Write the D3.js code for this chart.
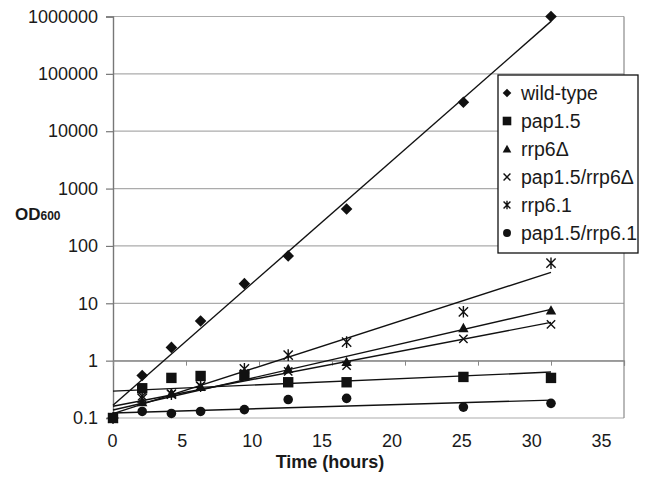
<!DOCTYPE html>
<html>
<head>
<meta charset="utf-8">
<script src="https://cdn.jsdelivr.net/npm/d3@7"></script>
<style>
	body { margin: 0; background: #fff; }
	text { font-family: "Liberation Sans", Arial, sans-serif; fill: #1a1a1a; }
</style>
</head>
<body>
<div id="chart"></div>
<script>
// Data (OD600 vs time)
var times = [0, 2, 4, 6, 9, 12, 16, 24, 30];
var wildType   = [0.1, 0.55, 1.7, 4.9, 22, 67, 440, 32000, 1000000];
var pap15      = [0.1, 0.33, 0.5, 0.54, 0.56, 0.42, 0.42, 0.52, 0.5];
var rrp6d      = [0.1, 0.19, 0.27, 0.35, 0.55, 0.72, 0.95, 3.7, 7.5];
var pap15rrp6d = [0.1, 0.24, 0.26, 0.36, 0.6, 0.65, 0.82, 2.4, 4.3];
var rrp61      = [0.1, 0.22, 0.26, 0.36, 0.72, 1.25, 2.1, 7.1, 50];
var pap15rrp61 = [0.1, 0.13, 0.12, 0.13, 0.14, 0.21, 0.22, 0.155, 0.18];

var seriesNames  = ["wild-type", "pap1.5", "rrp6\u0394", "pap1.5/rrp6\u0394", "rrp6.1", "pap1.5/rrp6.1"];
var seriesValues = [wildType, pap15, rrp6d, pap15rrp6d, rrp61, pap15rrp61];
var seriesShapes = ["diamond", "square", "triangle", "cross", "star", "circle"];

var yTickValues = [0.1, 1, 10, 100, 1000, 10000, 100000, 1000000];
var xTickValues = [0, 5, 10, 15, 20, 25, 30, 35];

var width = 645,
	height = 484,
	svg, x, xLab, y;

function init() {
	svg = d3.select("#chart").append("svg")
		.attr("width", width)
		.attr("height", height);

	x = d3.scaleLinear().domain([0, 35]).range([113, 624]);
	// the printed tick labels sit a little tighter than the ticks
	xLab = d3.scaleLinear().domain([0, 35]).range([112, 601]);
	y = d3.scaleLog().domain([0.1, 1000000]).range([418, 16.5]);

	drawGrid();
	drawAxes();
	drawSeries();
	drawLegend();
}

function drawGrid() {
	svg.append("g")
		.selectAll("line")
		.data(yTickValues)
		.enter().append("line")
		.attr("x1", x(0)).attr("x2", x(35))
		.attr("y1", function(d) { return y(d); })
		.attr("y2", function(d) { return y(d); })
		.attr("stroke", "#ababab")
		.attr("stroke-width", 1.2);

	// plot area frame (right side)
	svg.append("line")
		.attr("x1", x(35)).attr("x2", x(35))
		.attr("y1", y(1000000)).attr("y2", y(0.1))
		.attr("stroke", "#8a8a8a")
		.attr("stroke-width", 1.2);
}

function drawAxes() {
	var yAxis = svg.append("g")
		.attr("transform", "translate(" + x(0) + ",0)")
		.call(d3.axisLeft(y).tickValues(yTickValues).tickSize(7).tickPadding(8)
			.tickFormat(function(d) { return String(d); }));
	yAxis.select(".domain").attr("stroke", "#777").attr("stroke-width", 1.4);
	yAxis.selectAll(".tick line").attr("stroke", "#777").attr("stroke-width", 1.2);
	yAxis.selectAll("text").attr("font-size", 18).attr("fill", "#1a1a1a");

	// x axis crosses at 1
	var xAxis = svg.append("g")
		.attr("transform", "translate(0," + y(1) + ")")
		.call(d3.axisBottom(x).tickValues(xTickValues).tickSize(5).tickFormat(""));
	xAxis.select(".domain").attr("stroke", "#888").attr("stroke-width", 1.2);
	xAxis.selectAll(".tick line").attr("stroke", "#888").attr("stroke-width", 1);

	var xLabels = svg.append("g")
		.attr("transform", "translate(0," + (y(0.1) + 10) + ")")
		.call(d3.axisBottom(xLab).tickValues(xTickValues).tickSize(0).tickPadding(6));
	xLabels.select(".domain").remove();
	xLabels.selectAll("text").attr("font-size", 18).attr("fill", "#1a1a1a");

	svg.append("text")
		.attr("x", 330)
		.attr("y", 468)
		.attr("text-anchor", "middle")
		.attr("font-size", 18)
		.attr("font-weight", "bold")
		.text("Time (hours)");

	var od = svg.append("text")
		.attr("x", 15)
		.attr("y", 220)
		.attr("font-weight", "bold");
	od.append("tspan").attr("font-size", 17).text("OD");
	od.append("tspan").attr("font-size", 12).text("600");
}

// exponential trendline fitted on log10 values
function fitLine(vals) {
	var lx = times, ly = vals.map(function(v) { return Math.log10(v); });
	var mx = d3.mean(lx), my = d3.mean(ly);
	var sxy = d3.sum(lx, function(t, i) { return (t - mx) * (ly[i] - my); });
	var sxx = d3.sum(lx, function(t) { return (t - mx) * (t - mx); });
	var b = sxy / sxx, a = my - b * mx;
	var t0 = d3.min(times), t1 = d3.max(times);
	return [[t0, Math.pow(10, a + b * t0)], [t1, Math.pow(10, a + b * t1)]];
}

function markerPath(shape, s) {
	if (shape === "diamond") return "M0," + (-s) + "L" + s + ",0L0," + s + "L" + (-s) + ",0Z";
	if (shape === "square") return "M" + (-s) + "," + (-s) + "H" + s + "V" + s + "H" + (-s) + "Z";
	if (shape === "triangle") return "M0," + (-s) + "L" + s + "," + (s * 0.8) + "L" + (-s) + "," + (s * 0.8) + "Z";
	if (shape === "cross") return "M" + (-s * 0.8) + "," + (-s * 0.8) + "L" + (s * 0.8) + "," + (s * 0.8) +
		"M" + (-s * 0.8) + "," + (s * 0.8) + "L" + (s * 0.8) + "," + (-s * 0.8);
	if (shape === "star") return "M" + (-s * 0.8) + "," + (-s * 0.8) + "L" + (s * 0.8) + "," + (s * 0.8) +
		"M" + (-s * 0.8) + "," + (s * 0.8) + "L" + (s * 0.8) + "," + (-s * 0.8) +
		"M0," + (-s) + "L0," + s;
	return d3.symbol().type(d3.symbolCircle).size(Math.PI * s * s * 0.85)();
}

function styleMarker(sel, shape) {
	if (shape === "cross" || shape === "star") {
		sel.attr("fill", "none").attr("stroke", "#111").attr("stroke-width", 1.4);
	} else {
		sel.attr("fill", "#111").attr("stroke", "none");
	}
}

var markerSize = { diamond: 5.8, square: 5.2, triangle: 5.2, cross: 5.2, star: 5.8, circle: 5.2 };

function drawSeries() {
	var lineGen = d3.line()
		.x(function(d) { return x(d[0]); })
		.y(function(d) { return y(d[1]); });

	var lines = svg.append("g");
	seriesValues.forEach(function(vals) {
		lines.append("path")
			.datum(fitLine(vals))
			.attr("d", lineGen)
			.attr("fill", "none")
			.attr("stroke", "#111")
			.attr("stroke-width", 1.4);
	});

	// draw pap1.5 last so its square sits on top at t=0
	var order = [0, 2, 3, 4, 5, 1];
	var marks = svg.append("g");
	order.forEach(function(i) {
		var shape = seriesShapes[i];
		var pts = times.map(function(t, j) { return [t, seriesValues[i][j]]; });
		var g = marks.append("g");
		g.selectAll("path")
			.data(pts)
			.enter().append("path")
			.attr("transform", function(d) { return "translate(" + x(d[0]) + "," + y(d[1]) + ")"; })
			.attr("d", markerPath(shape, markerSize[shape]))
			.call(styleMarker, shape);
	});
}

function drawLegend() {
	var leg = svg.append("g").attr("transform", "translate(498,75)");
	leg.append("rect")
		.attr("width", 140)
		.attr("height", 178)
		.attr("fill", "#fff")
		.attr("stroke", "#111")
		.attr("stroke-width", 1.3);

	var items = leg.selectAll("g.item")
		.data(seriesNames)
		.enter().append("g")
		.attr("class", "item")
		.attr("transform", function(d, i) { return "translate(0," + (18 + i * 28) + ")"; });

	items.append("path")
		.attr("transform", "translate(9,0)")
		.attr("d", function(d, i) { return markerPath(seriesShapes[i], 4.3); })
		.each(function(d, i) { d3.select(this).call(styleMarker, seriesShapes[i]); });

	items.append("text")
		.attr("x", 23)
		.attr("dy", "0.35em")
		.attr("font-size", 19.5)
		.text(function(d) { return d; });
}

window.onload = init;
</script>
</body>
</html>
